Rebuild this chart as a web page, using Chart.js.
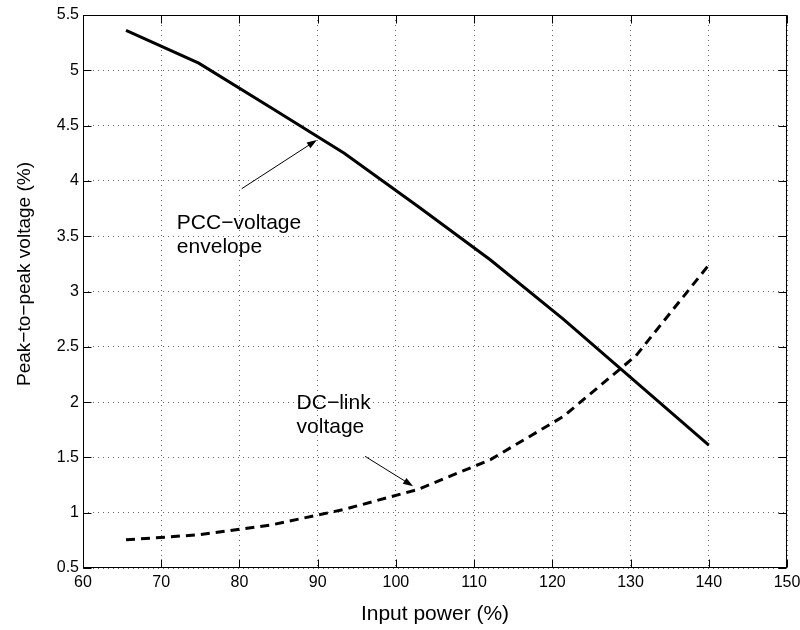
<!DOCTYPE html>
<html>
<head>
<meta charset="utf-8">
<title>Peak-to-peak voltage vs input power</title>
<script src="https://cdn.jsdelivr.net/npm/chart.js@4/dist/chart.umd.min.js"></script>
<style>
    html, body { margin: 0; padding: 0; background: #fff; }
    #wrap { width: 800px; height: 630px; }
</style>
</head>
<body>
<div id="wrap"><canvas id="ppChart" width="800" height="630"></canvas></div>
<script>
// Datos: potencia de entrada (%) y tensión pico a pico (%)
const power = [65.5, 74.8, 84.1, 93.4, 102.8, 112.1, 121.4, 130.7, 140];
const pccEnvelope = [5.36, 5.065, 4.66, 4.25, 3.77, 3.285, 2.75, 2.18, 1.61];
const dcLink = [0.755, 0.80, 0.89, 1.03, 1.21, 1.48, 1.87, 2.42, 3.24];

// Marcas de los ejes
const xTicks = [60, 70, 80, 90, 100, 110, 120, 130, 140, 150];
const yTicks = [0.5, 1, 1.5, 2, 2.5, 3, 3.5, 4, 4.5, 5, 5.5];

(function (window) {
    'use strict';

    const FONT = '"Liberation Sans", Arial, Helvetica, sans-serif';
    Chart.defaults.font.family = FONT;
    Chart.defaults.color = '#000';

    // Notas con flecha, en coordenadas de datos
    const notes = [
        { lines: ['PCC\u2212voltage', 'envelope'], at: [72.0, 3.565], from: [80.3, 3.93], to: [89.9, 4.37] },
        { lines: ['DC\u2212link', 'voltage'], at: [87.3, 1.936], from: [96.05, 1.51], to: [102.2, 1.24] }
    ];

    const toPoints = (xs, ys) => xs.map((x, i) => ({ x: x, y: ys[i] }));

    // Caja, marcas hacia dentro, notas y título del eje Y
    const framePlugin = {
        id: 'frame',
        afterDraw: function (chart) {
            const ctx = chart.ctx;
            const a = chart.chartArea;
            const sx = chart.scales.x;
            const sy = chart.scales.y;
            const L = Math.round(a.left) + 0.5, R = Math.round(a.right) - 0.5;
            const T = Math.round(a.top) + 0.5, B = Math.round(a.bottom) - 0.5;

            ctx.save();
            ctx.strokeStyle = '#000';
            ctx.lineWidth = 1;
            ctx.beginPath();
            xTicks.forEach(v => {
                const px = Math.round(sx.getPixelForValue(v)) + 0.5;
                ctx.moveTo(px, B); ctx.lineTo(px, B - 8);
                ctx.moveTo(px, T); ctx.lineTo(px, T + 8);
            });
            yTicks.forEach(v => {
                const py = Math.round(sy.getPixelForValue(v)) + 0.5;
                ctx.moveTo(L, py); ctx.lineTo(L + 8, py);
                ctx.moveTo(R, py); ctx.lineTo(R - 8, py);
            });
            ctx.stroke();
            ctx.strokeRect(L, T, R - L, B - T);

            // notas
            ctx.fillStyle = '#000';
            ctx.font = '21px ' + FONT;
            ctx.textAlign = 'left';
            ctx.textBaseline = 'alphabetic';
            notes.forEach(n => {
                const tx = sx.getPixelForValue(n.at[0]);
                const ty = sy.getPixelForValue(n.at[1]);
                n.lines.forEach((t, i) => ctx.fillText(t, tx, ty + i * 24));

                const x1 = sx.getPixelForValue(n.from[0]), y1 = sy.getPixelForValue(n.from[1]);
                const x2 = sx.getPixelForValue(n.to[0]), y2 = sy.getPixelForValue(n.to[1]);
                const ang = Math.atan2(y2 - y1, x2 - x1);
                ctx.beginPath();
                ctx.moveTo(x1, y1);
                ctx.lineTo(x2 - 8 * Math.cos(ang), y2 - 8 * Math.sin(ang));
                ctx.stroke();
                ctx.beginPath();
                ctx.moveTo(x2, y2);
                ctx.lineTo(x2 - 10 * Math.cos(ang) + 3.5 * Math.sin(ang), y2 - 10 * Math.sin(ang) - 3.5 * Math.cos(ang));
                ctx.lineTo(x2 - 10 * Math.cos(ang) - 3.5 * Math.sin(ang), y2 - 10 * Math.sin(ang) + 3.5 * Math.cos(ang));
                ctx.closePath();
                ctx.fill();
            });

            // título eje Y
            ctx.translate(25, 274);
            ctx.rotate(-Math.PI / 2);
            ctx.font = '19px ' + FONT;
            ctx.textAlign = 'center';
            ctx.textBaseline = 'middle';
            ctx.fillText('Peak\u2212to\u2212peak voltage (%)', 0, 0);
            ctx.restore();
        }
    };

    const gridStyle = { color: 'rgba(0,0,0,0.6)', lineWidth: 1, drawTicks: false };
    const borderStyle = { display: false, dash: [1, 4] };

    new Chart(document.getElementById('ppChart'), {
        type: 'line',
        data: {
            datasets: [{
                label: 'PCC-voltage envelope',
                data: toPoints(power, pccEnvelope),
                borderColor: '#000',
                borderWidth: 3,
                pointRadius: 0,
                tension: 0
            }, {
                label: 'DC-link voltage',
                data: toPoints(power, dcLink),
                borderColor: '#000',
                borderWidth: 3,
                borderDash: [9, 6],
                pointRadius: 0,
                tension: 0
            }]
        },
        options: {
            responsive: false,
            animation: false,
            layout: { padding: { top: 15, right: 13, left: 0, bottom: 0 } },
            plugins: {
                legend: { display: false },
                tooltip: { enabled: false }
            },
            scales: {
                x: {
                    type: 'linear',
                    min: 60,
                    max: 150,
                    afterBuildTicks: s => { s.ticks = xTicks.map(v => ({ value: v })); },
                    afterFit: s => { s.height = 62; s.paddingLeft = 0; s.paddingRight = 0; },
                    grid: gridStyle,
                    border: borderStyle,
                    ticks: { font: { size: 16 }, padding: 5, maxRotation: 0, callback: v => String(v) },
                    title: {
                        display: true,
                        text: 'Input power (%)',
                        font: { size: 21 },
                        padding: { top: 0, bottom: 3 }
                    }
                },
                y: {
                    type: 'linear',
                    min: 0.5,
                    max: 5.5,
                    afterBuildTicks: s => { s.ticks = yTicks.map(v => ({ value: v })); },
                    afterFit: s => { s.width = 83; s.paddingTop = 0; s.paddingBottom = 0; },
                    grid: gridStyle,
                    border: borderStyle,
                    ticks: { font: { size: 16 }, padding: 4, callback: v => String(v) }
                }
            }
        },
        plugins: [framePlugin]
    });

})(window);
</script>
</body>
</html>
